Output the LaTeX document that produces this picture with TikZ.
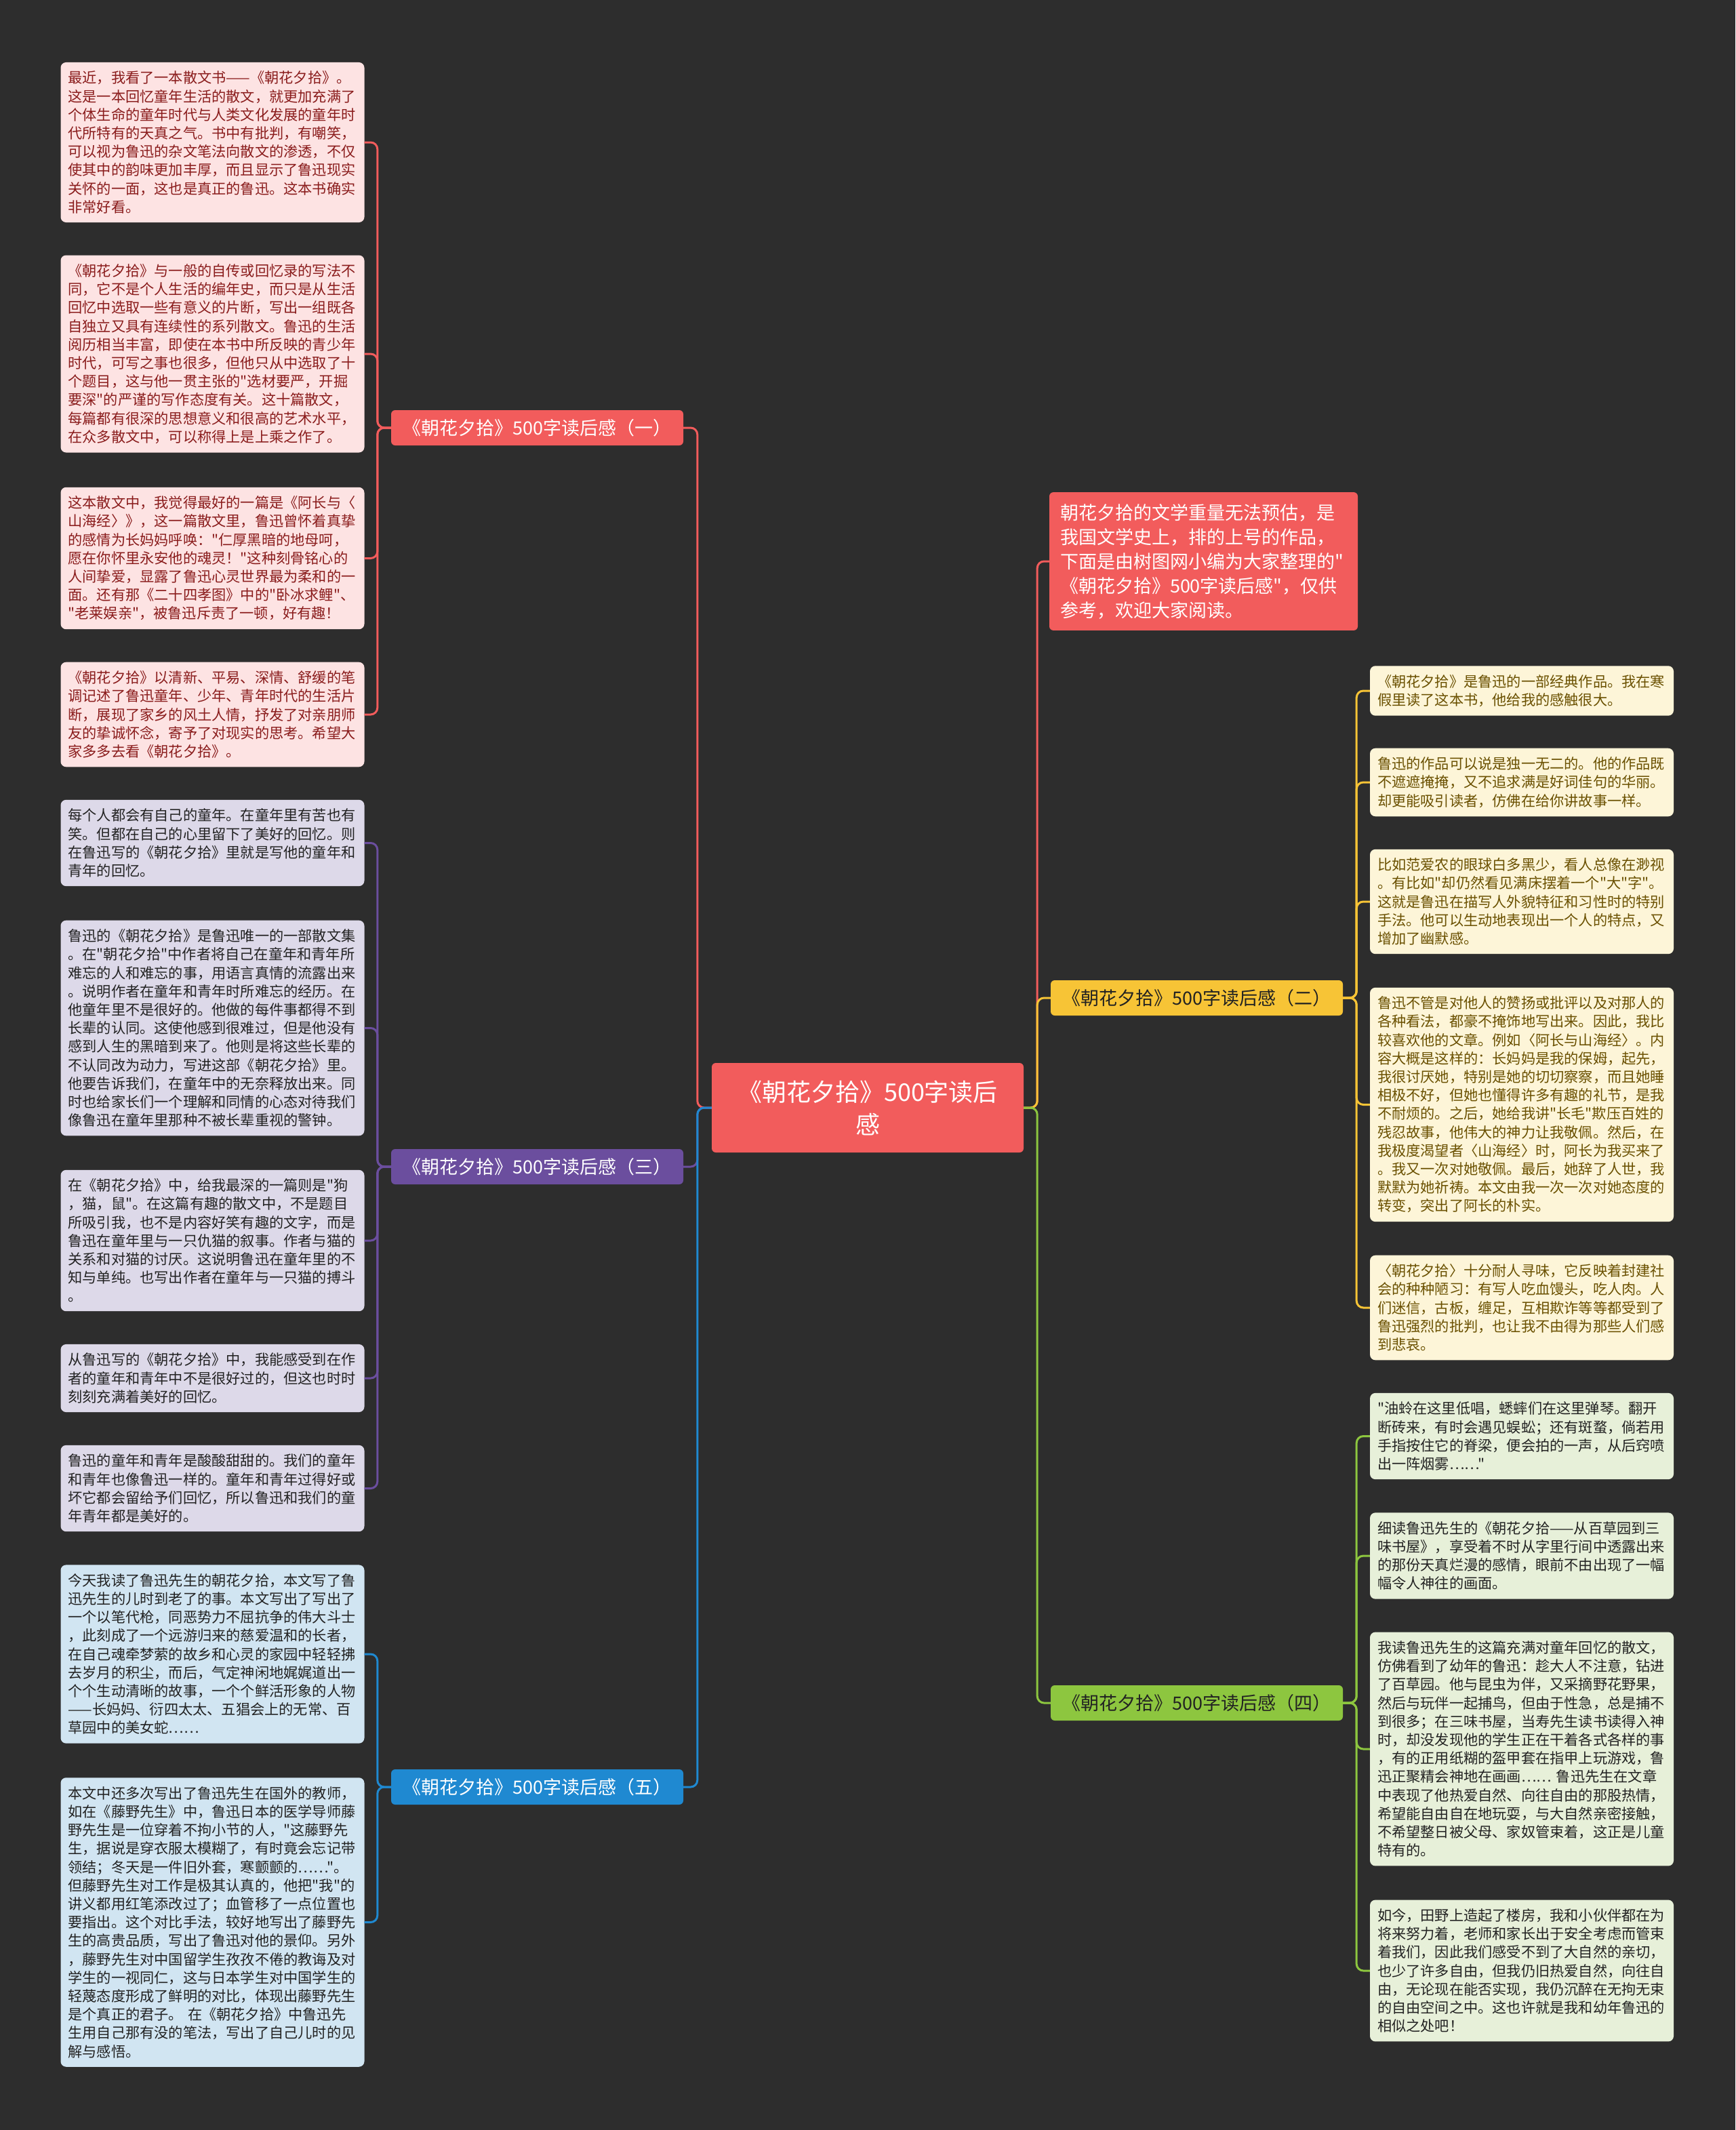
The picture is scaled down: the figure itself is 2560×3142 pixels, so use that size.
\documentclass[tikz,border=0pt]{standalone}
\usepackage{fontspec}
\setmainfont{Noto Sans CJK SC}
\newfontfamily\cjkfont{Noto Sans CJK SC}
\usepackage{xcolor}
\usepackage{tikz}
\usetikzlibrary{positioning}

\definecolor{bgdark}{HTML}{2D2D2D}
\definecolor{mmred}{HTML}{F25C5C}
\definecolor{mmpurple}{HTML}{6B4E9E}
\definecolor{mmblue}{HTML}{1F89D1}
\definecolor{mmyellow}{HTML}{F7C436}
\definecolor{mmgreen}{HTML}{8DC63F}
\definecolor{leafred}{HTML}{FDE3E3}
\definecolor{inkred}{HTML}{8A1C1C}
\definecolor{leafpurple}{HTML}{DDD9E9}
\definecolor{leafblue}{HTML}{D1E5F2}
\definecolor{leafyellow}{HTML}{FDF5D8}
\definecolor{inkyellow}{HTML}{6A5000}
\definecolor{leafgreen}{HTML}{E7F0D9}
\definecolor{inkdark}{HTML}{222222}

\newcommand{\leaffont}{\cjkfont\fontsize{21.2}{27.2}\selectfont}
\newcommand{\branchfont}{\cjkfont\fontsize{27}{32}\selectfont}

\begin{document}
\begin{tikzpicture}[
    x=1pt,y=-1pt,
    leaf/.style={
        rounded corners=8pt,text width=426pt,align=left,
        inner xsep=11pt,inner ysep=13pt,font=\leaffont
    },
    branch/.style={
        rounded corners=6pt,minimum width=431pt,minimum height=52pt,
        inner sep=0pt,font=\branchfont
    },
    link/.style={line width=3pt,rounded corners=10pt}
]
\useasboundingbox (0,0) rectangle (2560,3142);
\fill[bgdark] (0,0) rectangle (2560,3142);

% root and intro
\node[fill=mmred,text=white,rounded corners=6pt,minimum width=460pt,
  minimum height=132pt,align=center,font=\cjkfont\fontsize{36}{48}\selectfont]
  (ctr) at (1280,1634) {《朝花夕拾》500字读后\\感};
\node[fill=mmred,text=white,rounded corners=6pt,text width=423pt,align=left,
  inner xsep=16pt,inner ysep=17pt,font=\cjkfont\fontsize{27}{36}\selectfont]
  (intro) at (1775.5,828)
  {朝花夕拾的文学重量无法预估，是\\我国文学史上，排的上号的作品，\\下面是由树图网小编为大家整理的"\\《朝花夕拾》500字读后感"，仅供\\参考，欢迎大家阅读。};

% branches
\node[branch,fill=mmred,text=white] (rev1) at (792.5,631) {《朝花夕拾》500字读后感（一）};
\node[branch,fill=mmyellow,text=inkdark] (rev2) at (1765.5,1472) {《朝花夕拾》500字读后感（二）};
\node[branch,fill=mmpurple,text=white] (rev3) at (792.5,1721) {《朝花夕拾》500字读后感（三）};
\node[branch,fill=mmgreen,text=inkdark] (rev4) at (1765.5,2512) {《朝花夕拾》500字读后感（四）};
\node[branch,fill=mmblue,text=white] (rev5) at (792.5,2636) {《朝花夕拾》500字读后感（五）};

% leaves of (一)
\begin{scope}[every node/.append style={leaf,fill=leafred,text=inkred}]
\node (r1a) at (313.5,210) {最近，我看了一本散文书——《朝花夕拾》。\\这是一本回忆童年生活的散文，就更加充满了\\个体生命的童年时代与人类文化发展的童年时\\代所特有的天真之气。书中有批判，有嘲笑，\\可以视为鲁迅的杂文笔法向散文的渗透，不仅\\使其中的韵味更加丰厚，而且显示了鲁迅现实\\关怀的一面，这也是真正的鲁迅。这本书确实\\非常好看。};
\node (r1b) at (313.5,522) {《朝花夕拾》与一般的自传或回忆录的写法不\\同，它不是个人生活的编年史，而只是从生活\\回忆中选取一些有意义的片断，写出一组既各\\自独立又具有连续性的系列散文。鲁迅的生活\\阅历相当丰富，即使在本书中所反映的青少年\\时代，可写之事也很多，但他只从中选取了十\\个题目，这与他一贯主张的"选材要严，开掘\\要深"的严谨的写作态度有关。这十篇散文，\\每篇都有很深的思想意义和很高的艺术水平，\\在众多散文中，可以称得上是上乘之作了。};
\node (r1c) at (313.5,823.5) {这本散文中，我觉得最好的一篇是《阿长与〈\\山海经〉》，这一篇散文里，鲁迅曾怀着真挚\\的感情为长妈妈呼唤："仁厚黑暗的地母呵，\\愿在你怀里永安他的魂灵！"这种刻骨铭心的\\人间挚爱，显露了鲁迅心灵世界最为柔和的一\\面。还有那《二十四孝图》中的"卧冰求鲤"、\\"老莱娱亲"，被鲁迅斥责了一顿，好有趣！};
\node (r1d) at (313.5,1054) {《朝花夕拾》以清新、平易、深情、舒缓的笔\\调记述了鲁迅童年、少年、青年时代的生活片\\断，展现了家乡的风土人情，抒发了对亲朋师\\友的挚诚怀念，寄予了对现实的思考。希望大\\家多多去看《朝花夕拾》。};
\end{scope}

% leaves of (三)
\begin{scope}[every node/.append style={leaf,fill=leafpurple,text=inkdark}]
\node (r3a) at (313.5,1243.5) {每个人都会有自己的童年。在童年里有苦也有\\笑。但都在自己的心里留下了美好的回忆。则\\在鲁迅写的《朝花夕拾》里就是写他的童年和\\青年的回忆。};
\node (r3b) at (313.5,1516.5) {鲁迅的《朝花夕拾》是鲁迅唯一的一部散文集\\。在"朝花夕拾"中作者将自己在童年和青年所\\难忘的人和难忘的事，用语言真情的流露出来\\。说明作者在童年和青年时所难忘的经历。在\\他童年里不是很好的。他做的每件事都得不到\\长辈的认同。这使他感到很难过，但是他没有\\感到人生的黑暗到来了。他则是将这些长辈的\\不认同改为动力，写进这部《朝花夕拾》里。\\他要告诉我们，在童年中的无奈释放出来。同\\时也给家长们一个理解和同情的心态对待我们\\像鲁迅在童年里那种不被长辈重视的警钟。};
\node (r3c) at (313.5,1830) {在《朝花夕拾》中，给我最深的一篇则是"狗\\，猫，鼠"。在这篇有趣的散文中，不是题目\\所吸引我，也不是内容好笑有趣的文字，而是\\鲁迅在童年里与一只仇猫的叙事。作者与猫的\\关系和对猫的讨厌。这说明鲁迅在童年里的不\\知与单纯。也写出作者在童年与一只猫的搏斗\\。};
\node (r3d) at (313.5,2033) {从鲁迅写的《朝花夕拾》中，我能感受到在作\\者的童年和青年中不是很好过的，但这也时时\\刻刻充满着美好的回忆。};
\node (r3e) at (313.5,2195.5) {鲁迅的童年和青年是酸酸甜甜的。我们的童年\\和青年也像鲁迅一样的。童年和青年过得好或\\坏它都会留给予们回忆，所以鲁迅和我们的童\\年青年都是美好的。};
\end{scope}

% leaves of (五)
\begin{scope}[every node/.append style={leaf,fill=leafblue,text=inkdark}]
\node (r5a) at (313.5,2440) {今天我读了鲁迅先生的朝花夕拾，本文写了鲁\\迅先生的儿时到老了的事。本文写出了写出了\\一个以笔代枪，同恶势力不屈抗争的伟大斗士\\，此刻成了一个远游归来的慈爱温和的长者，\\在自己魂牵梦萦的故乡和心灵的家园中轻轻拂\\去岁月的积尘，而后，气定神闲地娓娓道出一\\个个生动清晰的故事，一个个鲜活形象的人物\\——长妈妈、衍四太太、五猖会上的无常、百\\草园中的美女蛇……};
\node (r5b) at (313.5,2835.5) {本文中还多次写出了鲁迅先生在国外的教师，\\如在《藤野先生》中，鲁迅日本的医学导师藤\\野先生是一位穿着不拘小节的人，"这藤野先\\生，据说是穿衣服太模糊了，有时竟会忘记带\\领结；冬天是一件旧外套，寒颤颤的……"。\\但藤野先生对工作是极其认真的，他把"我"的\\讲义都用红笔添改过了；血管移了一点位置也\\要指出。这个对比手法，较好地写出了藤野先\\生的高贵品质，写出了鲁迅对他的景仰。另外\\，藤野先生对中国留学生孜孜不倦的教诲及对\\学生的一视同仁，这与日本学生对中国学生的\\轻蔑态度形成了鲜明的对比，体现出藤野先生\\是个真正的君子。 在《朝花夕拾》中鲁迅先\\生用自己那有没的笔法，写出了自己儿时的见\\解与感悟。};
\end{scope}

% leaves of (二)
\begin{scope}[every node/.append style={leaf,fill=leafyellow,text=inkyellow}]
\node (r2a) at (2245,1019) {《朝花夕拾》是鲁迅的一部经典作品。我在寒\\假里读了这本书，他给我的感触很大。};
\node (r2b) at (2245,1154) {鲁迅的作品可以说是独一无二的。他的作品既\\不遮遮掩掩，又不追求满是好词佳句的华丽。\\却更能吸引读者，仿佛在给你讲故事一样。};
\node (r2c) at (2245,1330) {比如范爱农的眼球白多黑少，看人总像在渺视\\。有比如"却仍然看见满床摆着一个"大"字"。\\这就是鲁迅在描写人外貌特征和习性时的特别\\手法。他可以生动地表现出一个人的特点，又\\增加了幽默感。};
\node (r2d) at (2245,1629.5) {鲁迅不管是对他人的赞扬或批评以及对那人的\\各种看法，都豪不掩饰地写出来。因此，我比\\较喜欢他的文章。例如〈阿长与山海经〉。内\\容大概是这样的：长妈妈是我的保姆，起先，\\我很讨厌她，特别是她的切切察察，而且她睡\\相极不好，但她也懂得许多有趣的礼节，是我\\不耐烦的。之后，她给我讲"长毛"欺压百姓的\\残忍故事，他伟大的神力让我敬佩。然后，在\\我极度渴望者〈山海经〉时，阿长为我买来了\\。我又一次对她敬佩。最后，她辞了人世，我\\默默为她祈祷。本文由我一次一次对她态度的\\转变，突出了阿长的朴实。};
\node (r2e) at (2245,1929) {〈朝花夕拾〉十分耐人寻味，它反映着封建社\\会的种种陋习：有写人吃血馒头，吃人肉。人\\们迷信，古板，缠足，互相欺诈等等都受到了\\鲁迅强烈的批判，也让我不由得为那些人们感\\到悲哀。};
\end{scope}

% leaves of (四)
\begin{scope}[every node/.append style={leaf,fill=leafgreen,text=inkdark}]
\node (r4a) at (2245,2118.5) {"油蛉在这里低唱，蟋蟀们在这里弹琴。翻开\\断砖来，有时会遇见蜈蚣；还有斑蝥，倘若用\\手指按住它的脊梁，便会拍的一声，从后窍喷\\出一阵烟雾……"};
\node (r4b) at (2245,2295) {细读鲁迅先生的《朝花夕拾——从百草园到三\\味书屋》，享受着不时从字里行间中透露出来\\的那份天真烂漫的感情，眼前不由出现了一幅\\幅令人神往的画面。};
\node (r4c) at (2245,2580) {我读鲁迅先生的这篇充满对童年回忆的散文，\\仿佛看到了幼年的鲁迅：趁大人不注意，钻进\\了百草园。他与昆虫为伴，又采摘野花野果，\\然后与玩伴一起捕鸟，但由于性急，总是捕不\\到很多；在三味书屋，当寿先生读书读得入神\\时，却没发现他的学生正在干着各式各样的事\\，有的正用纸糊的盔甲套在指甲上玩游戏，鲁\\迅正聚精会神地在画画…… 鲁迅先生在文章\\中表现了他热爱自然、向往自由的那股热情，\\希望能自由自在地玩耍，与大自然亲密接触，\\不希望整日被父母、家奴管束着，这正是儿童\\特有的。};
\node (r4d) at (2245,2907) {如今，田野上造起了楼房，我和小伙伴都在为\\将来努力着，老师和家长出于安全考虑而管束\\着我们，因此我们感受不到了大自然的亲切，\\也少了许多自由，但我仍旧热爱自然，向往自\\由，无论现在能否实现，我仍沉醉在无拘无束\\的自由空间之中。这也许就是我和幼年鲁迅的\\相似之处吧！};
\end{scope}

% root links
\draw[link,mmred] (ctr.west) -- ++(-21,0) |- (rev1.east);
\draw[link,mmpurple] (ctr.west) -- ++(-21,0) |- (rev3.east);
\draw[link,mmblue] (ctr.west) -- ++(-21,0) |- (rev5.east);
\draw[link,mmred] (ctr.east) -- ++(20,0) |- (intro.west);
\draw[link,mmyellow] (ctr.east) -- ++(20,0) |- (rev2.west);
\draw[link,mmgreen] (ctr.east) -- ++(20,0) |- (rev4.west);

% leaf links
\foreach \l in {r1a,r1b,r1c,r1d}
  \draw[link,mmred] (rev1.west) -- ++(-20,0) |- (\l.east);
\foreach \l in {r3a,r3b,r3c,r3d,r3e}
  \draw[link,mmpurple] (rev3.west) -- ++(-20,0) |- (\l.east);
\foreach \l in {r5a,r5b}
  \draw[link,mmblue] (rev5.west) -- ++(-20,0) |- (\l.east);
\foreach \l in {r2a,r2b,r2c,r2d,r2e}
  \draw[link,mmyellow] (rev2.east) -- ++(20,0) |- (\l.west);
\foreach \l in {r4a,r4b,r4c,r4d}
  \draw[link,mmgreen] (rev4.east) -- ++(20,0) |- (\l.west);
\end{tikzpicture}
\end{document}
